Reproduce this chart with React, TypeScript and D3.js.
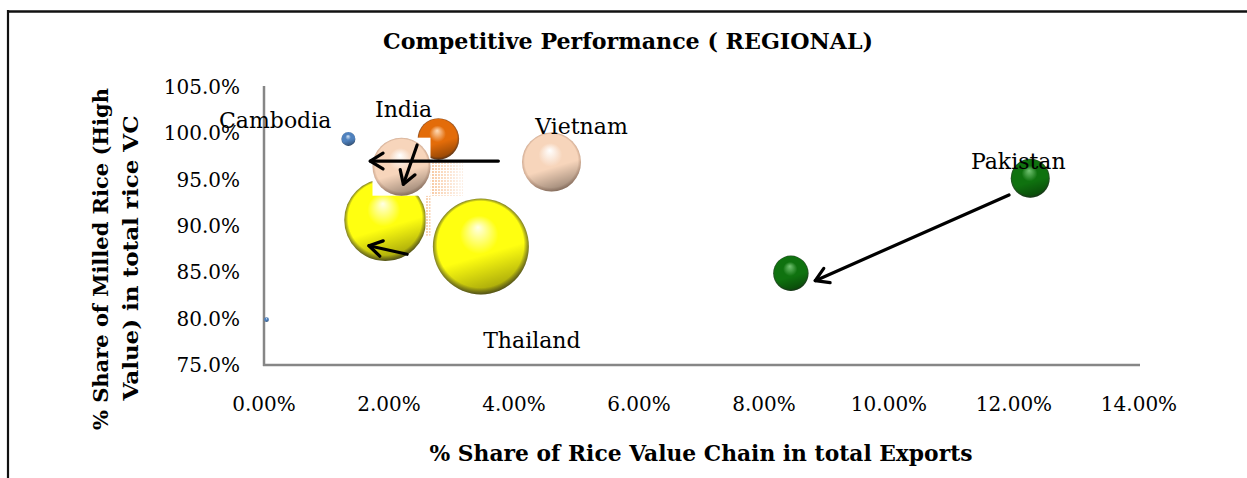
import React from "react";
import * as d3 from "d3";

// ---- data ----
const countries = ["Cambodia", "Cambodia", "India", "India", "Vietnam", "Thailand", "Thailand", "Pakistan", "Pakistan"];
const exportShare = [0.0135, 0.0004, 0.0279, 0.022, 0.046, 0.0194, 0.0347, 0.1226, 0.0843];
const milledShare = [0.994, 0.799, 0.994, 0.964, 0.969, 0.9065, 0.878, 0.9515, 0.849];
const bubbleSize = [49, 6, 430, 840, 870, 1680, 2300, 380, 313];
const bubbleColor = ["blue", "blue", "orange", "peach", "peach", "yellow", "yellow", "green", "green"];
const pastedBubble = 3; // bubble pasted as picture with white background

const xTicks = [0, 0.02, 0.04, 0.06, 0.08, 0.1, 0.12, 0.14];
const yTicks = [0.75, 0.8, 0.85, 0.9, 0.95, 1.0, 1.05];

// arrows: from / to in data units
const arrowFromX = [0.0375, 0.0245, 0.0229, 0.1192];
const arrowFromY = [0.9701, 0.9874, 0.8695, 0.9335];
const arrowToX = [0.017, 0.0223, 0.0168, 0.0882];
const arrowToY = [0.9701, 0.945, 0.8787, 0.841];

const labelText = ["Cambodia", "India", "Vietnam", "Thailand", "Pakistan"];
const labelBubble = [0, 3, 4, 6, 7];

const title = "Competitive Performance  ( REGIONAL)";
const xTitle = "% Share of Rice Value Chain in total Exports";
const yTitle1 = "% Share of Milled Rice (High";
const yTitle2 = "Value) in total rice VC";

// ---- styles ----
const palette: Record<string, [string, string, string]> = {
  blue: ["#dbe9f9", "#4f81bd", "#21446f"],
  orange: ["#ffdcb8", "#e36c09", "#7a3300"],
  peach: ["#ffffff", "#f7d5bb", "#c99d80"],
  yellow: ["#ffffe6", "#ffff10", "#6a6a00"],
  green: ["#74c474", "#0f720f", "#033303"],
};
const labelDx = [-10, 2, 30, 51, -12];
const labelDy = [-11, -50, -28, 102, -9];
const labelAnchor = ["end", "middle", "middle", "middle", "middle"];

const W = 1247;
const H = 478;
const serif = "'DejaVu Serif', 'Liberation Serif', serif";

export default function App() {
  const x = d3.scaleLinear().domain([0, 0.14]).range([264, 1139]);
  const y = d3.scaleLinear().domain([0.75, 1.05]).range([365, 87]);
  const r = d3.scaleSqrt().domain([0, 2300]).range([0, 48]);
  const fx = d3.format(".2%");
  const fy = d3.format(".1%");

  const pts = countries.map((c, i) => ({
    c,
    cx: x(exportShare[i]),
    cy: y(milledShare[i]),
    r: r(bubbleSize[i]),
    color: bubbleColor[i],
    i,
  }));

  const sphere = (p: any, key: string) => (
    <g key={key}>
      <circle cx={p.cx} cy={p.cy} r={p.r} fill={`url(#grad-${p.color})`} />
      <circle cx={p.cx} cy={p.cy} r={p.r} fill="url(#shade)" />
    </g>
  );

  const arrow = (i: number) => {
    const x1 = x(arrowFromX[i]);
    const y1 = y(arrowFromY[i]);
    const x2 = x(arrowToX[i]);
    const y2 = y(arrowToY[i]);
    const a = Math.atan2(y1 - y2, x1 - x2);
    const L = 15;
    const s = 0.55;
    const h1 = [x2 + L * Math.cos(a + s), y2 + L * Math.sin(a + s)];
    const h2 = [x2 + L * Math.cos(a - s), y2 + L * Math.sin(a - s)];
    return (
      <g key={"ar" + i} stroke="#000" strokeWidth={3.2} fill="none" strokeLinecap="round" strokeLinejoin="round">
        <line x1={x1} y1={y1} x2={x2} y2={y2} />
        <polyline points={`${h1[0]},${h1[1]} ${x2},${y2} ${h2[0]},${h2[1]}`} />
      </g>
    );
  };

  const pb = pts[pastedBubble];

  return (
    <svg width={W} height={H} style={{ position: "absolute", left: 0, top: 0, background: "#fff" }}>
      <defs>
        {Object.entries(palette).map(([k, [hi, base, dark]]) => (
          <radialGradient key={k} id={`grad-${k}`} cx="50%" cy="50%" r="50%" fx="47%" fy="30%">
            <stop offset="0%" stopColor={hi} />
            <stop offset="40%" stopColor={base} />
            <stop offset="90%" stopColor={base} />
            <stop offset="100%" stopColor={dark} stopOpacity={0.85} />
          </radialGradient>
        ))}
        <linearGradient id="shade" x1="0.3" y1="0" x2="0.6" y2="1">
          <stop offset="0%" stopColor="#000" stopOpacity={0} />
          <stop offset="60%" stopColor="#000" stopOpacity={0} />
          <stop offset="100%" stopColor="#000" stopOpacity={0.38} />
        </linearGradient>
        <pattern id="dither" width="3" height="3" patternUnits="userSpaceOnUse">
          <rect width="3" height="3" fill="#fff" />
          <rect width="2" height="2" fill="#f8c9a2" />
        </pattern>
        <linearGradient id="ditherFade" x1="0" y1="0" x2="1" y2="0">
          <stop offset="0%" stopColor="#fff" stopOpacity={0} />
          <stop offset="100%" stopColor="#fff" stopOpacity={0.85} />
        </linearGradient>
      </defs>

      {/* frame */}
      <line x1={7} y1={11.5} x2={W} y2={11.5} stroke="#111" strokeWidth={2.6} />
      <line x1={8} y1={10} x2={8} y2={H} stroke="#111" strokeWidth={2.2} />

      {/* title */}
      <text x={628} y={48.5} textAnchor="middle" fontFamily={serif} fontWeight="bold" fontSize={22}
        textLength={490} lengthAdjust="spacingAndGlyphs">{title}</text>

      {/* axes */}
      <line x1={x(0)} y1={y(1.05) - 1} x2={x(0)} y2={y(0.75) + 1} stroke="#868686" strokeWidth={2.5} />
      <line x1={x(0) - 1} y1={y(0.75)} x2={x(0.14) + 1} y2={y(0.75)} stroke="#868686" strokeWidth={2.5} />

      {yTicks.map((t) => (
        <text key={"yt" + t} x={240} y={y(t)} dy="0.35em" textAnchor="end" fontFamily={serif} fontSize={20}>
          {fy(t)}
        </text>
      ))}
      {xTicks.map((t) => (
        <text key={"xt" + t} x={x(t)} y={411} textAnchor="middle" fontFamily={serif} fontSize={20}>
          {fx(t)}
        </text>
      ))}

      {/* axis titles */}
      <text x={701} y={461} textAnchor="middle" fontFamily={serif} fontWeight="bold" fontSize={22.5}
        textLength={543} lengthAdjust="spacingAndGlyphs">{xTitle}</text>
      <text transform="translate(108,259) rotate(-90)" textAnchor="middle" fontFamily={serif} fontWeight="bold"
        fontSize={21} textLength={342} lengthAdjust="spacingAndGlyphs">{yTitle1}</text>
      <text transform="translate(138,258) rotate(-90)" textAnchor="middle" fontFamily={serif} fontWeight="bold"
        fontSize={21} textLength={285} lengthAdjust="spacingAndGlyphs">{yTitle2}</text>

      {/* bubbles */}
      {pts.filter((p) => p.i !== pastedBubble).map((p) => sphere(p, "b" + p.i))}

      {/* pasted bubble picture with white background and dithered shadow */}
      <rect x={pb.cx + pb.r} y={pb.cy - 4} width={32} height={pb.r + 4} fill="url(#dither)" />
      <rect x={pb.cx + pb.r} y={pb.cy - 4} width={32} height={pb.r + 4} fill="url(#ditherFade)" />
      <rect x={pb.cx + pb.r - 5} y={pb.cy + pb.r} width={5} height={40} fill="url(#dither)" opacity={0.8} />
      <rect x={pb.cx - pb.r} y={pb.cy - pb.r} width={pb.r * 2} height={pb.r * 2} fill="#fff" />
      {sphere(pb, "pasted")}

      {/* arrows */}
      {arrowFromX.map((_, i) => arrow(i))}

      {/* labels */}
      {labelText.map((t, i) => {
        const p = pts[labelBubble[i]];
        const dx = i === 0 ? -p.r + labelDx[i] : labelDx[i];
        return (
          <text key={"l" + i} x={p.cx + dx} y={p.cy + labelDy[i]} textAnchor={labelAnchor[i] as any}
            fontFamily={serif} fontSize={22}>{t}</text>
        );
      })}
    </svg>
  );
}
